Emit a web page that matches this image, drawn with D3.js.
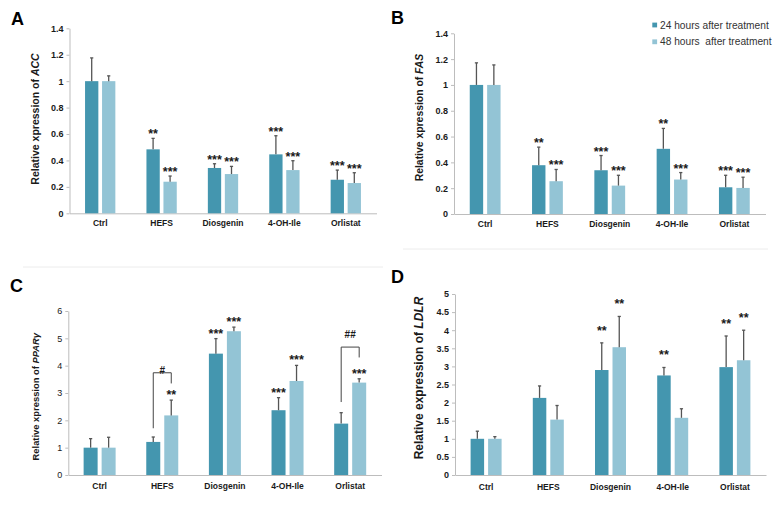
<!DOCTYPE html>
<html>
<head>
<meta charset="utf-8">
<script src="https://cdn.jsdelivr.net/npm/d3@7"></script>
<style>
  html, body { margin: 0; padding: 0; background: #fff; }
  svg { display: block; font-family: "Liberation Sans", Arial, sans-serif; }
  .legend text { white-space: pre; }
</style>
</head>
<body>
<script>
// ── Data ──────────────────────────────────────────────────────────────────
const categories = ['Ctrl', 'HEFS', 'Diosgenin', '4-OH-Ile', 'Orlistat'];
const seriesLabels = ['24 hours after treatment', '48 hours  after treatment'];

// A: ACC
const acc24 = [1.0, 0.484, 0.343, 0.446, 0.254];
const acc24Sd = [0.176, 0.083, 0.032, 0.141, 0.073];
const acc48 = [1.0, 0.239, 0.297, 0.327, 0.229];
const acc48Sd = [0.040, 0.043, 0.058, 0.071, 0.078];
const acc24Sig = ['', '**', '***', '***', '***'];
const acc48Sig = ['', '***', '***', '***', '***'];

// B: FAS
const fas24 = [1.0, 0.378, 0.339, 0.505, 0.207];
const fas24Sd = [0.171, 0.140, 0.114, 0.158, 0.093];
const fas48 = [1.0, 0.254, 0.220, 0.267, 0.202];
const fas48Sd = [0.155, 0.091, 0.080, 0.054, 0.083];
const fas24Sig = ['', '**', '***', '**', '***'];
const fas48Sig = ['', '***', '***', '***', '***'];

// C: PPARγ
const ppar24 = [1.0, 1.21, 4.44, 2.37, 1.88];
const ppar24Sd = [0.33, 0.18, 0.55, 0.46, 0.40];
const ppar48 = [1.0, 2.18, 5.26, 3.44, 3.38];
const ppar48Sd = [0.38, 0.56, 0.15, 0.57, 0.14];
const ppar24Sig = ['', '', '***', '***', ''];
const ppar48Sig = ['', '**', '***', '***', '***'];
// 24h vs 48h comparison brackets (data units)
const pparBrackets = [
  { cat: 'HEFS', top: 3.74, left: 1.71, right: 3.35, label: '#', labelAt: 3.83 },
  { cat: 'Orlistat', top: 4.68, left: 2.67, right: 4.30, label: '##', labelAt: 5.15 }
];

// D: LDLR
const ldlr24 = [1.0, 2.13, 2.90, 2.75, 2.98];
const ldlr24Sd = [0.21, 0.33, 0.75, 0.22, 0.86];
const ldlr48 = [1.0, 1.53, 3.53, 1.58, 3.17];
const ldlr48Sd = [0.06, 0.39, 0.85, 0.25, 0.83];
const ldlr24Sig = ['', '', '**', '**', '**'];
const ldlr48Sig = ['', '', '**', '', '**'];

// ── Style ─────────────────────────────────────────────────────────────────
const colors = ['#4496af', '#93c4d5'];
const axisColor = '#bdbdbd';
const errColor = '#555';
const textColor = '#1a1a1a';

const svg = d3.select('body').append('svg')
  .attr('width', 780)
  .attr('height', 514);

// faint separators from the source figure
svg.append('line').attr('x1', 403).attr('x2', 768).attr('y1', 249).attr('y2', 249)
  .attr('stroke', '#ececec');
svg.append('line').attr('x1', 23).attr('x2', 383).attr('y1', 267).attr('y2', 267)
  .attr('stroke', '#ececec');

const panels = [
  {
    letter: 'A', lx: 11, ly: 25,
    prefix: 'Relative xpression of ', gene: 'ACC', labelX: 35.5, labelY: 119, labelSize: 10.5,
    mean: [acc24, acc48], sd: [acc24Sd, acc48Sd], sig: [acc24Sig, acc48Sig],
    yMax: 1.4, yStep: 0.2, x0: 69.5, x1: 376.5, y0: 213.3, yTop: 28.3,
    barW: 13.3, gap: 3.7, tickBold: true, catPad: 7, starOff: 0
  },
  {
    letter: 'B', lx: 391, ly: 24,
    prefix: 'Relative xpression of ', gene: 'FAS', labelX: 419, labelY: 117.5, labelSize: 10.4,
    mean: [fas24, fas48], sd: [fas24Sd, fas48Sd], sig: [fas24Sig, fas48Sig],
    yMax: 1.4, yStep: 0.2, x0: 454, x1: 765.5, y0: 214, yTop: 33.3,
    barW: 13.4, gap: 4, tickBold: true, catPad: 7, starOff: 0
  },
  {
    letter: 'C', lx: 10, ly: 292,
    prefix: 'Relative xpression of ', gene: 'PPARγ', labelX: 35.8, labelY: 396.7, labelSize: 9.4,
    mean: [ppar24, ppar48], sd: [ppar24Sd, ppar48Sd], sig: [ppar24Sig, ppar48Sig],
    yMax: 6, yStep: 1, x0: 68.3, x1: 381.5, y0: 475, yTop: 311,
    barW: 14, gap: 4, tickBold: false, catPad: 8, starOff: -1,
    brackets: pparBrackets
  },
  {
    letter: 'D', lx: 391, ly: 283,
    prefix: 'Relative expression of ', gene: 'LDLR', labelX: 418.3, labelY: 378, labelSize: 12,
    mean: [ldlr24, ldlr48], sd: [ldlr24Sd, ldlr48Sd], sig: [ldlr24Sig, ldlr48Sig],
    yMax: 5, yStep: 0.5, x0: 455, x1: 766, y0: 475, yTop: 294,
    barW: 13.5, gap: 4, tickBold: true, catPad: 9, starOff: -8
  }
];

panels.forEach(drawPanel);

// ── Legend (panel B) ──────────────────────────────────────────────────────
const legend = svg.append('g').attr('class', 'legend');
seriesLabels.forEach(function (name, i) {
  const cy = 25 + i * 16.8;
  legend.append('rect')
    .attr('x', 652.3).attr('y', cy - 2.4)
    .attr('width', 4.8).attr('height', 4.8)
    .attr('fill', colors[i]);
  legend.append('text')
    .attr('x', 660).attr('y', cy)
    .attr('dy', '0.35em')
    .attr('font-size', 10.2)
    .attr('fill', '#333')
    .text(name);
});

// ── Panel drawing ─────────────────────────────────────────────────────────
function drawPanel(p) {
  const g = svg.append('g');

  const x = d3.scaleBand().domain(categories).range([p.x0, p.x1]);
  const y = d3.scaleLinear().domain([0, p.yMax]).range([p.y0, p.yTop]);
  const fmt = function (d) { return String(+d.toFixed(1)); };

  // y axis
  const yAxis = g.append('g')
    .attr('transform', 'translate(' + p.x0 + ',0)')
    .call(d3.axisLeft(y)
      .tickValues(d3.range(0, p.yMax + 1e-9, p.yStep))
      .tickSize(3).tickSizeOuter(0).tickPadding(3)
      .tickFormat(fmt));
  yAxis.select('.domain').attr('stroke', axisColor);
  yAxis.selectAll('.tick line').attr('stroke', axisColor);
  yAxis.selectAll('.tick text')
    .attr('fill', textColor)
    .attr('font-size', 9)
    .attr('font-weight', p.tickBold ? 'bold' : 'normal')
    .attr('font-family', '"Liberation Sans", Arial, sans-serif');

  // x axis
  const xAxis = g.append('g')
    .attr('transform', 'translate(0,' + p.y0 + ')')
    .call(d3.axisBottom(x).tickSize(0).tickSizeOuter(0).tickPadding(p.catPad));
  xAxis.select('.domain').attr('stroke', axisColor);
  xAxis.selectAll('.tick text')
    .attr('fill', textColor)
    .attr('font-size', 8.5)
    .attr('font-weight', 'bold')
    .attr('font-family', '"Liberation Sans", Arial, sans-serif');

  // bars + error bars + significance marks
  function barX(cat, s) {
    const cx = x(cat) + x.bandwidth() / 2;
    return s === 0 ? cx - p.gap / 2 - p.barW : cx + p.gap / 2;
  }

  [0, 1].forEach(function (s) {
    const rows = categories.map(function (c, i) {
      return { cat: c, v: p.mean[s][i], sd: p.sd[s][i], sig: p.sig[s][i] };
    });
    const sg = g.append('g');

    sg.selectAll('rect')
      .data(rows)
      .join('rect')
        .attr('x', function (d) { return barX(d.cat, s); })
        .attr('y', function (d) { return y(d.v); })
        .attr('width', p.barW)
        .attr('height', function (d) { return y(0) - y(d.v); })
        .attr('fill', colors[s]);

    const cxOf = function (d) { return barX(d.cat, s) + p.barW / 2; };

    sg.selectAll('line.err')
      .data(rows)
      .join('line')
        .attr('class', 'err')
        .attr('x1', cxOf).attr('x2', cxOf)
        .attr('y1', function (d) { return y(d.v); })
        .attr('y2', function (d) { return y(d.v + d.sd); })
        .attr('stroke', errColor).attr('stroke-width', 1.3);

    sg.selectAll('line.cap')
      .data(rows)
      .join('line')
        .attr('class', 'cap')
        .attr('x1', function (d) { return cxOf(d) - 1.6; })
        .attr('x2', function (d) { return cxOf(d) + 1.6; })
        .attr('y1', function (d) { return y(d.v + d.sd); })
        .attr('y2', function (d) { return y(d.v + d.sd); })
        .attr('stroke', errColor).attr('stroke-width', 1.3);

    sg.selectAll('text.sig')
      .data(rows.filter(function (d) { return d.sig; }))
      .join('text')
        .attr('class', 'sig')
        .attr('x', cxOf)
        .attr('y', function (d) { return y(d.v + d.sd) + p.starOff; })
        .attr('text-anchor', 'middle')
        .attr('font-size', 12.5)
        .attr('font-weight', 'bold')
        .attr('fill', textColor)
        .text(function (d) { return d.sig; });
  });

  // comparison brackets
  (p.brackets || []).forEach(function (b) {
    const xl = barX(b.cat, 0) + p.barW / 2;
    const xr = barX(b.cat, 1) + p.barW / 2;
    g.append('path')
      .attr('d', 'M' + xl + ',' + y(b.left) + 'V' + y(b.top) + 'H' + xr + 'V' + y(b.right))
      .attr('fill', 'none')
      .attr('stroke', '#444')
      .attr('stroke-width', 1);
    g.append('text')
      .attr('x', (xl + xr) / 2)
      .attr('y', y(b.labelAt))
      .attr('dy', '0.35em')
      .attr('text-anchor', 'middle')
      .attr('font-size', 10)
      .attr('font-weight', 'bold')
      .attr('fill', textColor)
      .text(b.label);
  });

  // y label with italic gene name
  const yl = g.append('text')
    .attr('transform', 'translate(' + p.labelX + ',' + p.labelY + ') rotate(-90)')
    .attr('dy', '0.35em')
    .attr('text-anchor', 'middle')
    .attr('font-size', p.labelSize)
    .attr('font-weight', 'bold')
    .attr('fill', textColor);
  yl.append('tspan').text(p.prefix);
  yl.append('tspan').attr('font-style', 'italic').text(p.gene);

  // panel letter
  svg.append('text')
    .attr('x', p.lx).attr('y', p.ly)
    .attr('font-size', 18)
    .attr('font-weight', 'bold')
    .attr('fill', '#000')
    .text(p.letter);
}
</script>
</body>
</html>
